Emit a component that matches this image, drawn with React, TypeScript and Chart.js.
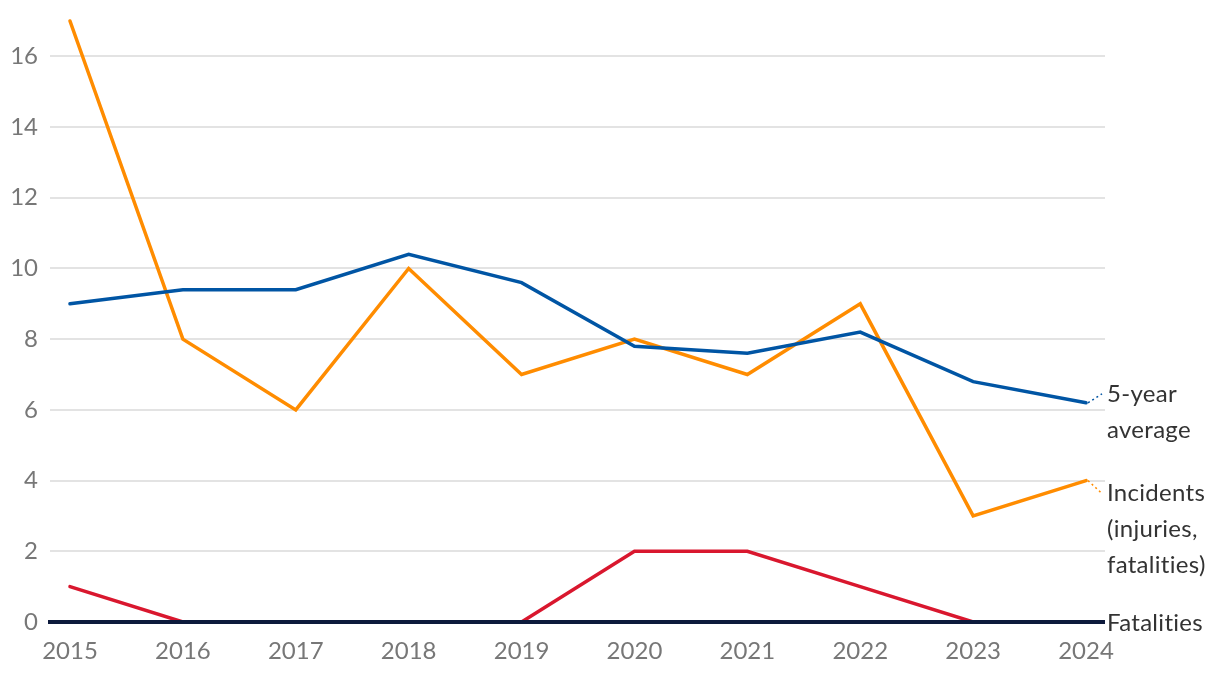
import React, { useEffect, useRef } from "react";
import { Chart, registerables } from "chart.js";

Chart.register(...registerables);

const YEARS = [2015, 2016, 2017, 2018, 2019, 2020, 2021, 2022, 2023, 2024];
const INCIDENTS = [17, 8, 6, 10, 7, 8, 7, 9, 3, 4];
const AVERAGE = [9, 9.4, 9.4, 10.4, 9.6, 7.8, 7.6, 8.2, 6.8, 6.2];
const FATALITIES = [1, 0, 0, 0, 0, 2, 2, 1, 0, 0];
const Y_TICKS = [0, 2, 4, 6, 8, 10, 12, 14, 16];

const SERIES = [
  { name: ["5-year", "average"], data: AVERAGE, color: "#0055a4", dy: -9 },
  { name: ["Incidents", "(injuries,", "fatalities)"], data: INCIDENTS, color: "#ff8c00", dy: 13 },
  { name: ["Fatalities"], data: FATALITIES, color: "#d9172e", dy: 1 },
];

const FONT = "Lato, 'Open Sans', sans-serif";

export default function App() {
  const ref = useRef<HTMLCanvasElement | null>(null);
  useEffect(() => {
    document.body.style.margin = "0";
    const canvas = ref.current!;
    const endLabels = {
      id: "endLabels",
      afterDatasetsDraw(chart: any) {
        const ctx = chart.ctx;
        const area = chart.chartArea;
        const ys = chart.scales.y;
        ctx.save();
        ctx.strokeStyle = "#0d1a3c";
        ctx.lineWidth = 4;
        ctx.beginPath();
        ctx.moveTo(area.left - 2, ys.getPixelForValue(0));
        ctx.lineTo(area.right, ys.getPixelForValue(0));
        ctx.stroke();
        ctx.restore();

        SERIES.forEach((s, i) => {
          const meta = chart.getDatasetMeta(i);
          const pt = meta.data[meta.data.length - 1];
          const ly = pt.y + s.dy;
          const lx = area.right + 2;
          ctx.save();
          if (s.name[0] !== "Fatalities") {
            ctx.strokeStyle = s.color;
            ctx.lineWidth = 1.5;
            ctx.setLineDash([2, 3]);
            ctx.beginPath();
            ctx.moveTo(pt.x + 2, pt.y);
            ctx.lineTo(lx - 5, ly);
            ctx.stroke();
          }
          ctx.setLineDash([]);
          ctx.fillStyle = "#333333";
          ctx.font = `24px ${FONT}`;
          (ctx as any).letterSpacing = "0.3px";
          ctx.textBaseline = "middle";
          ctx.textAlign = "left";
          s.name.forEach((line, k) => {
            ctx.fillText(line, lx, ly + k * 36);
          });
          ctx.restore();
        });
      },
    };

    const chart = new Chart(canvas, {
      type: "line",
      data: {
        datasets: SERIES.map((s) => ({
          label: s.name.join(" "),
          data: YEARS.map((y, i) => ({ x: y, y: s.data[i] })),
          borderColor: s.color,
          backgroundColor: s.color,
          borderWidth: 3.5,
          borderCapStyle: "round",
          pointRadius: 0,
          tension: 0,
          clip: false,
        })),
      },
      options: {
        animation: false,
        responsive: false,
        maintainAspectRatio: false,
        layout: { padding: { top: 21, right: 115, bottom: 0, left: 0 } },
        plugins: { legend: { display: false }, tooltip: { enabled: false } },
        scales: {
          x: {
            type: "linear",
            min: 2014.823,
            max: 2024.168,
            afterBuildTicks: (scale: any) => {
              scale.ticks = YEARS.map((v) => ({ value: v }));
            },
            afterFit: (scale: any) => {
              scale.height = 54;
              scale.paddingLeft = 0;
              scale.paddingRight = 0;
            },
            grid: { display: false, drawTicks: false },
            border: { display: false },
            ticks: {
              color: "#777777",
              font: { family: FONT, size: 24 },
              padding: 15,
              maxRotation: 0,
              autoSkip: false,
              callback: (v: any) => String(v),
            },
          },
          y: {
            min: 0,
            max: 17,
            afterBuildTicks: (scale: any) => {
              scale.ticks = Y_TICKS.map((v) => ({ value: v }));
            },
            afterFit: (scale: any) => {
              scale.width = 50;
              scale.paddingTop = 0;
              scale.paddingBottom = 0;
            },
            grid: { color: "#e3e3e3", lineWidth: 2, drawTicks: false },
            border: { display: false },
            ticks: {
              color: "#777777",
              font: { family: FONT, size: 24 },
              padding: 12,
            },
          },
        },
      },
      plugins: [endLabels],
    } as any);
    return () => chart.destroy();
  }, []);
  return (
    <div style={{ width: 1220, height: 676 }}>
      <canvas ref={ref} width={1220} height={676} style={{ width: 1220, height: 676, display: "block" }} />
    </div>
  );
}
